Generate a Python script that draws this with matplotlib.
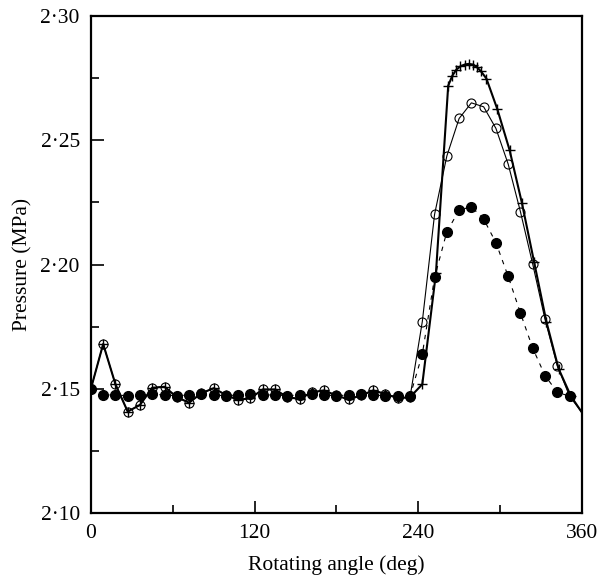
import matplotlib
matplotlib.use("Agg")
import matplotlib.pyplot as plt
from matplotlib.ticker import MultipleLocator, FuncFormatter

plt.rcParams["font.family"] = ["Liberation Serif", "DejaVu Serif"]

# --- data (deg, MPa) ---
angle_9 = [0, 9, 18, 27, 36, 45, 54, 63, 72, 81, 90, 99, 108, 117, 126, 135,
           144, 153, 162, 171, 180, 189, 198, 207, 216, 225, 234, 243, 252,
           261, 270, 279, 288, 297, 306, 315, 324, 333, 342, 351, 360]

p_open = [2.150, 2.168, 2.1518, 2.1408, 2.1435, 2.1504, 2.1508, 2.1466, 2.1444,
          2.1482, 2.1502, 2.1475, 2.1455, 2.1462, 2.1497, 2.1497, 2.1466,
          2.1459, 2.1486, 2.1493, 2.1473, 2.1457, 2.1473, 2.1493, 2.1479,
          2.1462, 2.1466, 2.177, 2.2202, 2.2437, 2.2588, 2.2651, 2.2635,
          2.2548, 2.2404, 2.2212, 2.2001, 2.1779, 2.1592, 2.147, 2.1405]

angle_filled = angle_9[:-1]
p_filled = [2.150, 2.1475, 2.1475, 2.1472, 2.1475, 2.1478, 2.1475, 2.1472,
            2.1475, 2.1478, 2.1475, 2.1472, 2.1475, 2.1478, 2.1475, 2.1475,
            2.1472, 2.1475, 2.1478, 2.1475, 2.1472, 2.1475, 2.1478, 2.1475,
            2.1472, 2.147, 2.147, 2.1639, 2.1948, 2.2132, 2.2219, 2.2233,
            2.2183, 2.2088, 2.1952, 2.1804, 2.1663, 2.1553, 2.1486, 2.147]

angle_plus = [0, 9, 18, 27, 36, 45, 54, 63, 72, 81, 90, 99, 108, 117, 126,
              135, 144, 153, 162, 171, 180, 189, 198, 207, 216, 225, 234, 243,
              253, 262, 265, 268, 271, 274, 277, 280, 283, 286, 290, 298,
              307, 316, 325, 334, 343, 352, 360]
p_plus = [2.150, 2.168, 2.1518, 2.1408, 2.1435, 2.1504, 2.1508, 2.1466, 2.1444,
          2.1482, 2.1502, 2.1475, 2.1455, 2.1462, 2.1497, 2.1497, 2.1466,
          2.1459, 2.1486, 2.1493, 2.1473, 2.1457, 2.1473, 2.1493, 2.1479,
          2.1462, 2.1466, 2.1518, 2.1965, 2.2720, 2.2760, 2.2785,
          2.2798, 2.2805, 2.2808, 2.2805, 2.2795, 2.2778, 2.2749, 2.2626,
          2.2461, 2.2249, 2.2010, 2.1770, 2.1580, 2.1470, 2.1405]

fig = plt.figure(figsize=(5.98, 5.77), dpi=100)
ax = fig.add_axes([0.152, 0.111, 0.821, 0.861])

# last point of the solid curves has no marker in the original
ax.plot(angle_plus, p_plus, color="black", lw=1.5, marker="+", ms=7,
        mew=1.0, markevery=slice(0, -1), zorder=2)
ax.plot(angle_9, p_open, color="black", lw=0.8, marker="o", ms=6.5,
        mfc="none", mec="black", mew=0.8, markevery=slice(0, -1), zorder=3)
ax.plot(angle_filled, p_filled, color="black", lw=0.8, dashes=(4, 5),
        marker="o", ms=7, mfc="black", mec="black", zorder=4)

ax.set_xlim(0, 360)
ax.set_ylim(2.10, 2.30)
ax.xaxis.set_major_locator(MultipleLocator(120))
ax.xaxis.set_minor_locator(MultipleLocator(60))
ax.yaxis.set_major_locator(MultipleLocator(0.05))
ax.yaxis.set_minor_locator(MultipleLocator(0.025))
ax.yaxis.set_major_formatter(FuncFormatter(lambda v, p: f"{v:.2f}".replace(".", "\u00b7")))

ax.tick_params(which="both", direction="in", top=False, right=False,
               labelsize=15.5, width=1.2)
ax.tick_params(which="major", length=9, pad=8)
ax.tick_params(which="minor", length=6)
for s in ax.spines.values():
    s.set_linewidth(1.6)

ax.set_xlabel("Rotating angle (deg)", fontsize=15.5, labelpad=9)
ax.set_ylabel("Pressure (MPa)", fontsize=15.5, labelpad=6)

fig.savefig("out.png", dpi=100)
